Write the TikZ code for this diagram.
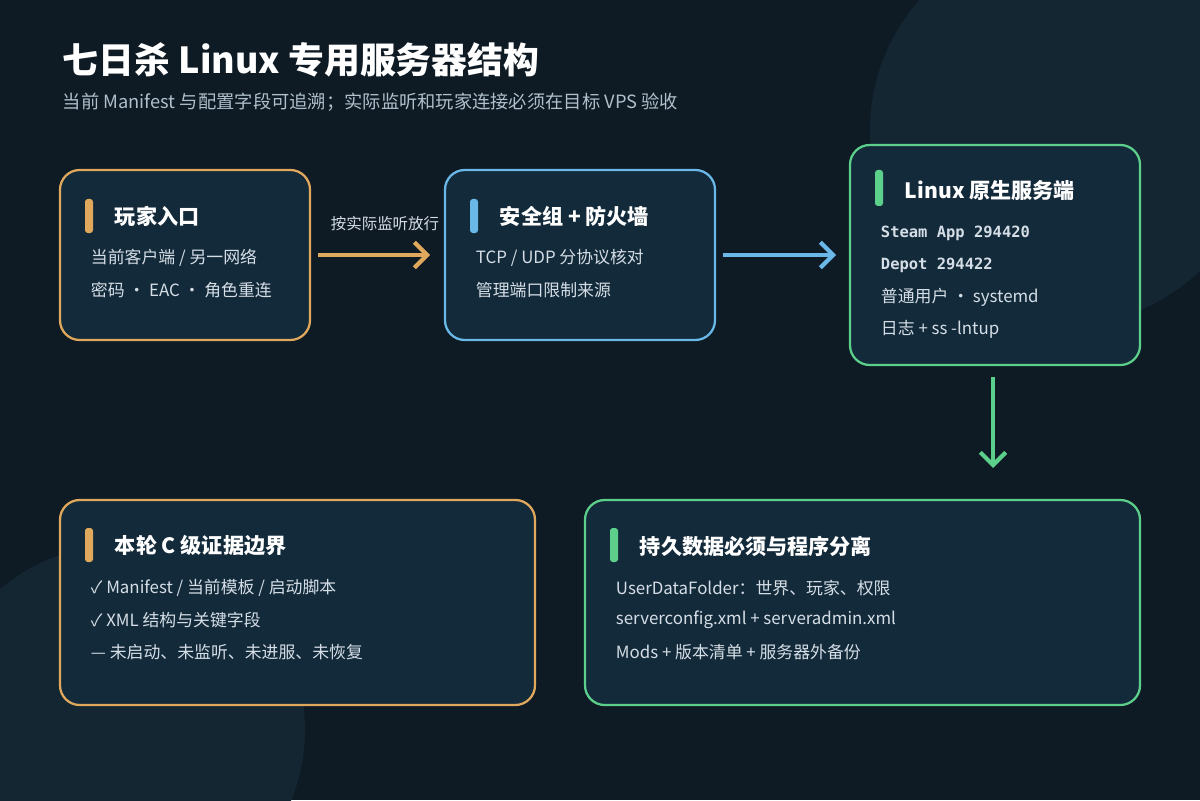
\documentclass[tikz,border=0pt]{standalone}
\usepackage{fontspec}
\setmainfont{Noto Sans CJK SC}
\newfontfamily\codefont{DejaVu Sans Mono}
\usetikzlibrary{arrows.meta,positioning}
\definecolor{bgdark}{HTML}{0E1A24}
\definecolor{bgcircle}{HTML}{152633}
\definecolor{boxfill}{HTML}{132A3A}
\definecolor{warm}{HTML}{E0A85C}
\definecolor{sky}{HTML}{6AB8E8}
\definecolor{mint}{HTML}{5CCF8A}
\definecolor{bodytext}{HTML}{D5DEE6}
\definecolor{subtext}{HTML}{AFC0CC}
\tikzset{
  panel/.style={draw=#1,line width=1.6pt,fill=boxfill,rounded corners=14pt},
  bar/.style={fill=#1,rounded corners=2pt},
  head/.style={anchor=west,text=white,font=\fontsize{15}{17}\selectfont\bfseries},
  line/.style={anchor=west,text=bodytext,font=\fontsize{12}{14}\selectfont},
  code/.style={anchor=west,text=bodytext,font=\fontsize{11}{14}\codefont\bfseries},
  flow/.style={draw=#1,line width=3pt,-{Straight Barb[length=9pt,width=18pt]}}
}
\begin{document}
\begin{tikzpicture}[x=0.025cm,y=-0.025cm]
\fill[bgdark] (0,0) rectangle (1200,800);
\useasboundingbox (0,0) rectangle (1200,800);
\begin{scope}
\clip (0,0) rectangle (1200,800);
\fill[bgcircle] (1065,130) circle (195);
\fill[bgcircle] (120,730) circle (185);
\end{scope}
% title
\node[anchor=west,text=white,font=\fontsize{25.5}{28}\selectfont\bfseries] (title) at (58,60) {七日杀 Linux 专用服务器结构};
\node[anchor=west,text=subtext,font=\fontsize{13}{15}\selectfont] (sub) at (58,102) {当前 Manifest 与配置字段可追溯；实际监听和玩家连接必须在目标 VPS 验收};
% panels
\draw[panel=warm] (60,170) rectangle (310,340);
\draw[panel=sky] (445,170) rectangle (715,340);
\draw[panel=mint] (850,145) rectangle (1140,365);
\draw[panel=warm] (60,500) rectangle (535,705);
\draw[panel=mint] (585,500) rectangle (1140,705);
% player entry
\fill[bar=warm] (85,199) rectangle (93,233);
\node[head] (entry) at (110,216) {玩家入口};
\node[line] at (86,258) {当前客户端 / 另一网络};
\node[line] at (86,290) {密码 · EAC · 角色重连};
% firewall
\fill[bar=sky] (470,199) rectangle (478,233);
\node[head] (fw) at (495,216) {安全组 + 防火墙};
\node[line] at (471,258) {TCP / UDP 分协议核对};
\node[line] at (471,290) {管理端口限制来源};
% native server
\fill[bar=mint] (875,170) rectangle (883,206);
\node[head] (srv) at (900,191) {Linux 原生服务端};
\node[code] at (876,233) {Steam App 294420};
\node[code] at (876,265) {Depot 294422};
\node[line] at (876,297) {普通用户 · systemd};
\node[line] at (876,329) {日志 + ss -lntup};
% evidence
\fill[bar=warm] (85,528) rectangle (93,562);
\node[head] (evid) at (110,546) {本轮 C 级证据边界};
\node[line] at (86,588) {✓ Manifest / 当前模板 / 启动脚本};
\node[line] at (86,620) {✓ XML 结构与关键字段};
\node[line] at (86,652) {— 未启动、未监听、未进服、未恢复};
% data
\fill[bar=mint] (610,528) rectangle (618,562);
\node[head] (data) at (635,546) {持久数据必须与程序分离};
\node[line] at (611,588) {UserDataFolder：世界、玩家、权限};
\node[line] at (611,620) {serverconfig.xml + serveradmin.xml};
\node[line] at (611,652) {Mods + 版本清单 + 服务器外备份};
% arrows
\coordinate (a1s) at (318,255); \coordinate (a1e) at (430,255);
\coordinate (a2s) at (723,255); \coordinate (a2e) at (836,255);
\coordinate (a3s) at (993,377); \coordinate (a3e) at (993,468);
\draw[flow=warm] (a1s) -- (a1e);
\node[text=bodytext,font=\fontsize{11}{12}\selectfont] (allow) at (385,224) {按实际监听放行};
\draw[flow=sky] (a2s) -- (a2e);
\draw[flow=mint] (a3s) -- (a3e);
\end{tikzpicture}
\end{document}
